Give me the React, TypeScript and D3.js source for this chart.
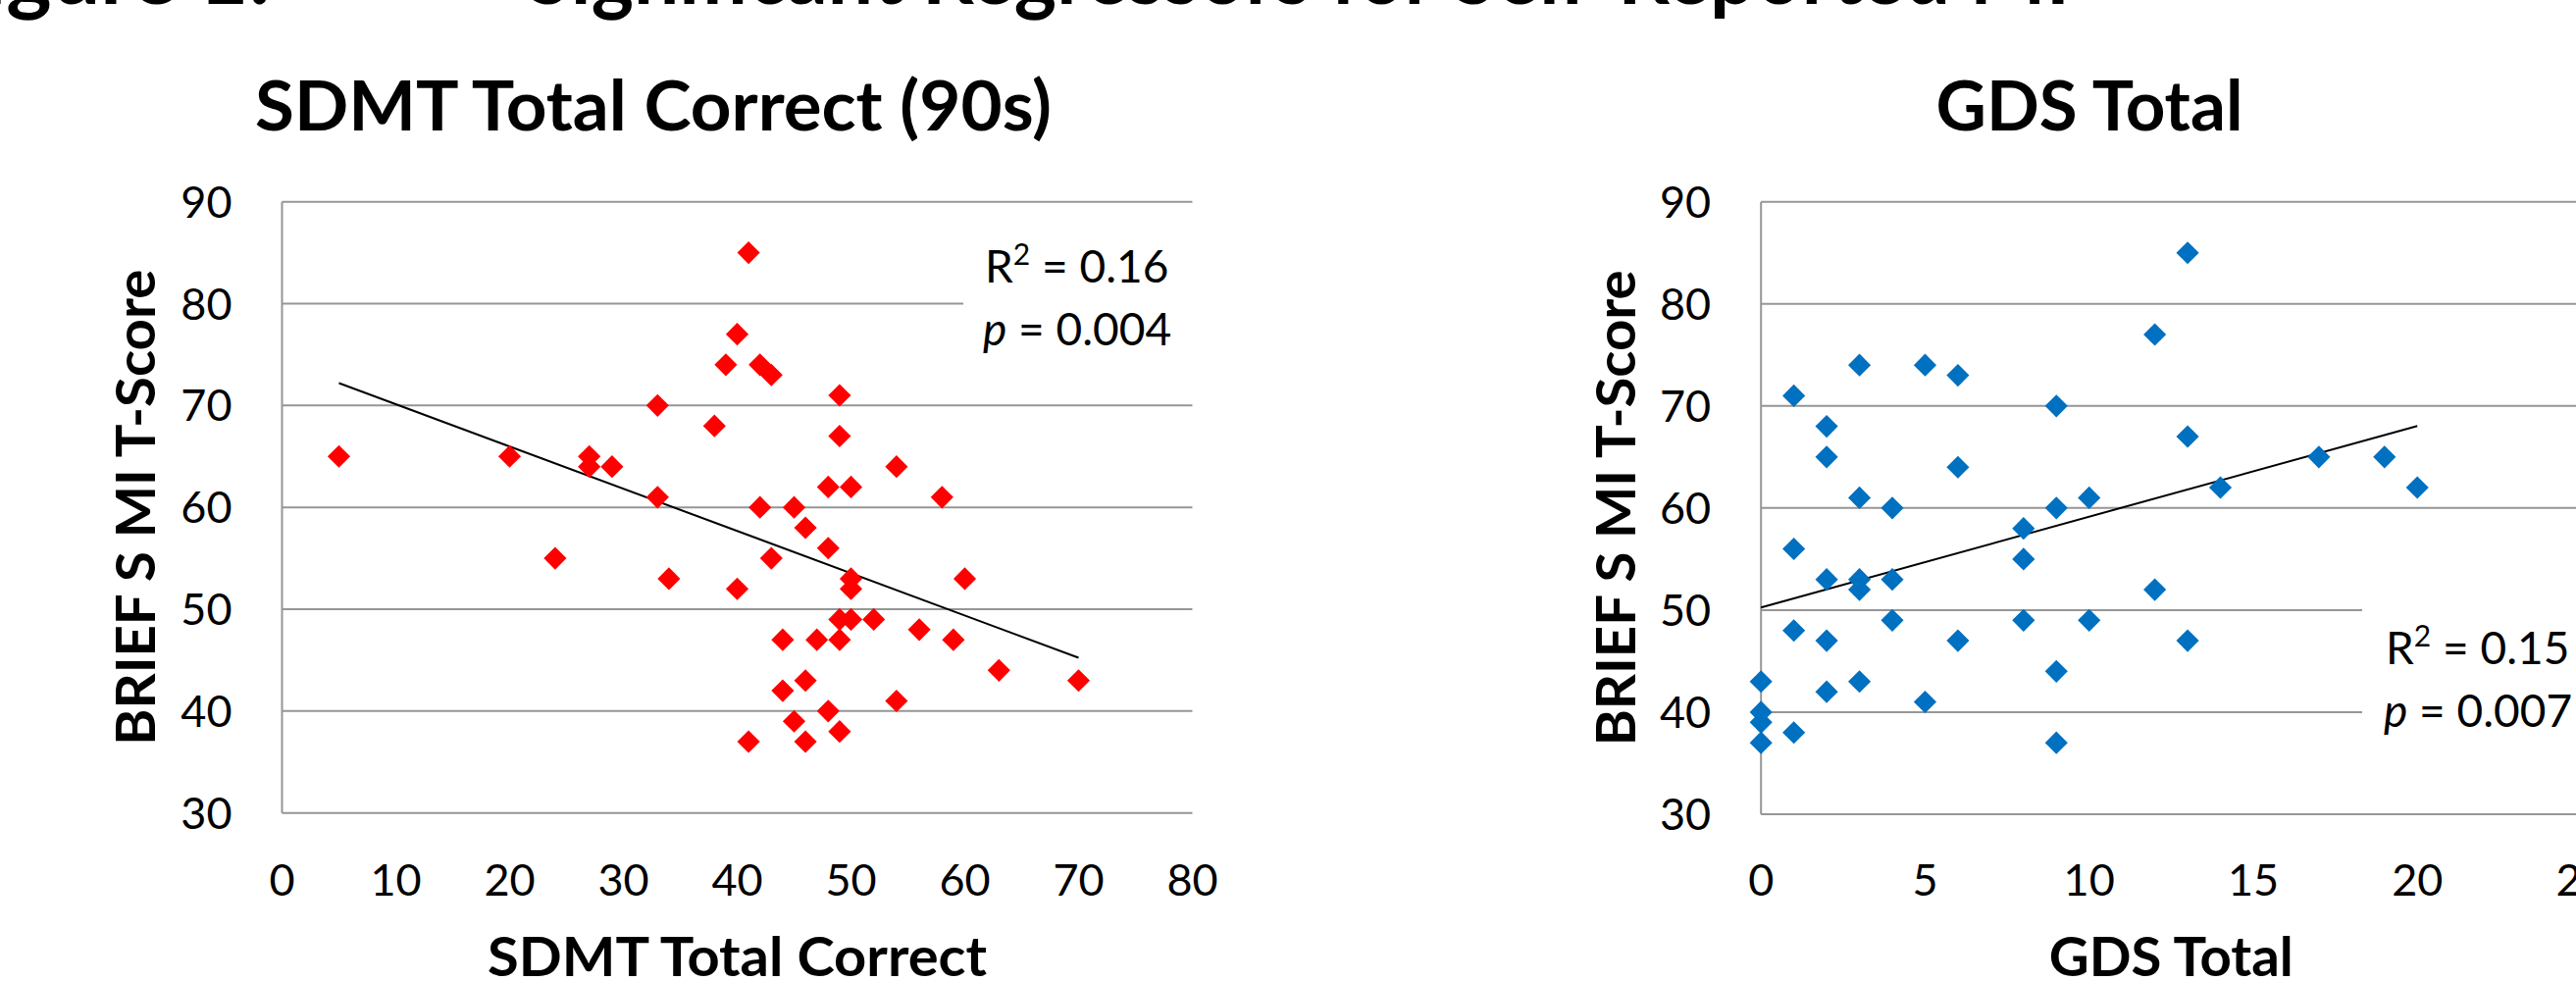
import React from 'react';
import * as d3 from 'd3';

// ---------- data ----------
const sdmtX = [5, 20, 27, 27, 29, 33, 33, 24, 38, 39, 40, 41, 42, 43, 42, 43, 49, 49, 54, 48, 50, 58, 45, 46, 48, 50, 50, 40, 60, 49, 50, 52, 56, 44, 47, 49, 59, 63, 70, 46, 44, 54, 48, 45, 49, 41, 46, 34];
const sdmtY = [65, 65, 65, 64, 64, 70, 61, 55, 68, 74, 77, 85, 74, 73, 60, 55, 71, 67, 64, 62, 62, 61, 60, 58, 56, 53, 52, 52, 53, 49, 49, 49, 48, 47, 47, 47, 47, 44, 43, 43, 42, 41, 40, 39, 38, 37, 37, 53];
const gdsX = [1, 2, 2, 3, 3, 4, 5, 6, 6, 9, 9, 10, 8, 8, 1, 12, 13, 13, 14, 17, 19, 20, 2, 3, 3, 4, 12, 1, 4, 8, 10, 2, 6, 0, 3, 2, 5, 9, 0, 0, 1, 0, 9, 13];
const gdsY = [71, 68, 65, 74, 61, 60, 74, 73, 64, 70, 60, 61, 58, 55, 56, 77, 85, 67, 62, 65, 65, 62, 53, 53, 52, 53, 52, 48, 49, 49, 49, 47, 47, 43, 43, 42, 41, 44, 40, 39, 38, 37, 37, 47];

const yTicks = [30, 40, 50, 60, 70, 80, 90];
const sdmtTicks = [0, 10, 20, 30, 40, 50, 60, 70, 80];
const gdsTicks = [0, 5, 10, 15, 20, 25];

// trend lines: [intercept, slope], and x extent
const sdmtTrend = [74.28, -0.415];
const sdmtTrendExtent = [5, 70];
const gdsTrend = [50.26, 0.889];
const gdsTrendExtent = [0, 20];

const sdmtStats = ['0.16', '0.004'];
const gdsStats = ['0.15', '0.007'];

const FONT = 'Lato, Carlito, Calibri, "Liberation Sans", sans-serif';
const GRID = '#969696';

type PanelProps = {
  xs: number[];
  ys: number[];
  xTicks: number[];
  xDomain: [number, number];
  xRange: [number, number];
  yRange: [number, number];
  color: string;
  title: string;
  titleX: number;
  titleW: number;
  xTitle: string;
  xTitleW: number;
  yTitleX: number;
  trend: number[];
  trendExtent: number[];
  stats: string[];
  statsX: number;
  statsY: number;
  box: [number, number, number, number];
};

function Panel(p: PanelProps) {
  const x = d3.scaleLinear().domain(p.xDomain).range(p.xRange);
  const y = d3.scaleLinear().domain([30, 90]).range(p.yRange);
  const diamond = d3.symbol(d3.symbolSquare, 268)() as string;
  const line = d3
    .line<number>()
    .x((v) => x(v))
    .y((v) => y(p.trend[0] + p.trend[1] * v));
  const [x0, x1] = p.xRange;
  const yMid = (p.yRange[0] + p.yRange[1]) / 2;
  return (
    <g fontFamily={FONT}>
      <text x={p.titleX} y={133} fontSize={70} fontWeight={700} textAnchor="middle" textLength={p.titleW} lengthAdjust="spacingAndGlyphs">
        {p.title}
      </text>
      {yTicks.map((t) => (
        <line key={'g' + t} x1={x0} x2={x1} y1={y(t)} y2={y(t)} stroke={GRID} strokeWidth={2} />
      ))}
      <line x1={x0} x2={x0} y1={y(90)} y2={y(30)} stroke={GRID} strokeWidth={2} />
      <rect x={p.box[0]} y={p.box[1]} width={p.box[2]} height={p.box[3]} fill="#fff" />
      {yTicks.map((t) => (
        <text key={'yt' + t} x={x0 - 51} y={y(t) + 16} fontSize={45} textAnchor="end">
          {t}
        </text>
      ))}
      {p.xTicks.map((t) => (
        <text key={'xt' + t} x={x(t)} y={913} fontSize={45} textAnchor="middle">
          {t}
        </text>
      ))}
      <path d={line(p.trendExtent) as string} stroke="#000" strokeWidth={2} fill="none" />
      {p.xs.map((v, i) => (
        <path key={'p' + i} d={diamond} transform={`translate(${x(v)},${y(p.ys[i])}) rotate(45)`} fill={p.color} />
      ))}
      <text x={(x0 + x1) / 2} y={995} fontSize={56} fontWeight={700} textAnchor="middle" textLength={p.xTitleW} lengthAdjust="spacingAndGlyphs">
        {p.xTitle}
      </text>
      <text
        transform={`translate(${p.yTitleX},${yMid}) rotate(-90)`}
        fontSize={56}
        fontWeight={700}
        textAnchor="middle"
        textLength={485}
        lengthAdjust="spacingAndGlyphs"
      >
        BRIEF S MI T-Score
      </text>
      <text x={p.statsX} y={p.statsY} fontSize={46}>
        R<tspan fontSize={30} dy={-18}>2</tspan>
        <tspan dy={18}> = {p.stats[0]}</tspan>
      </text>
      <text x={p.statsX - 2} y={p.statsY + 64} fontSize={46}>
        <tspan fontStyle="italic">p</tspan> = {p.stats[1]}
      </text>
    </g>
  );
}

export default function App() {
  return (
    <svg width={2626} height={1000} viewBox="0 0 2626 1000" style={{ position: 'absolute', left: 0, top: 0, background: '#fff' }}>
      <rect x={0} y={0} width={2626} height={1000} fill="#fff" />
      <g fontFamily={FONT} fontWeight={700} fontSize={88}>
        <text x={276} y={4} textAnchor="end">Figure 1:</text>
        <text x={537} y={4} textLength={1573} lengthAdjust="spacingAndGlyphs">
          Significant Regressors for Self-Reported MI
        </text>
      </g>
      <Panel
        xs={sdmtX}
        ys={sdmtY}
        xTicks={sdmtTicks}
        xDomain={[0, 80]}
        xRange={[287.5, 1215.5]}
        yRange={[828.7, 205.7]}
        color="#ff0000"
        title="SDMT Total Correct (90s)"
        titleX={666}
        titleW={812}
        xTitle="SDMT Total Correct"
        xTitleW={509}
        yTitleX={158}
        trend={sdmtTrend}
        trendExtent={sdmtTrendExtent}
        stats={sdmtStats}
        statsX={1004}
        statsY={288}
        box={[982, 222, 250, 150]}
      />
      <Panel
        xs={gdsX}
        ys={gdsY}
        xTicks={gdsTicks}
        xDomain={[0, 25]}
        xRange={[1795.2, 2631.5]}
        yRange={[830, 205.7]}
        color="#0070c0"
        title="GDS Total"
        titleX={2130}
        titleW={313}
        xTitle="GDS Total"
        xTitleW={249}
        yTitleX={1667}
        trend={gdsTrend}
        trendExtent={gdsTrendExtent}
        stats={gdsStats}
        statsX={2432}
        statsY={677}
        box={[2408, 596, 240, 180]}
      />
    </svg>
  );
}
